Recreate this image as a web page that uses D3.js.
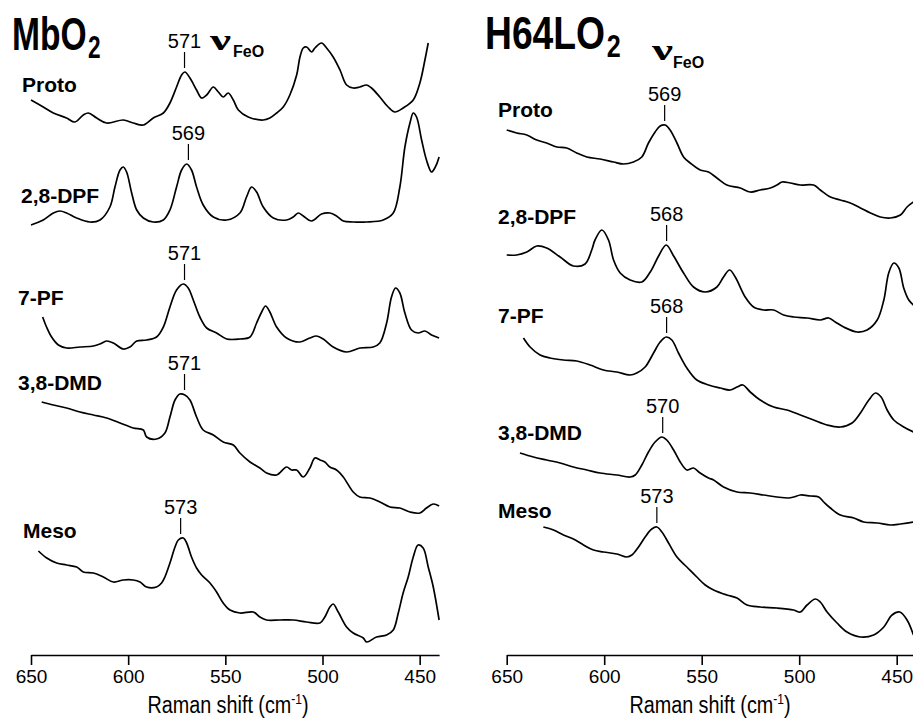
<!DOCTYPE html>
<html>
<head>
<meta charset="utf-8">
<script src="https://cdn.jsdelivr.net/npm/d3@7"></script>
<style>
  body { margin: 0; background: #fff; }
  svg { display: block; font-family: "Liberation Sans", Arial, sans-serif; }
</style>
</head>
<body>
<script>
// sample names, in stacking order (top to bottom)
const sampleNames = ["Proto", "2,8-DPF", "7-PF", "3,8-DMD", "Meso"];
// nu(Fe-O) band positions marked on each trace (cm-1)
const mbPeaks = [571, 569, 571, 571, 573];
const hlPeaks = [569, 568, 568, 570, 573];
const xTicks = [650, 600, 550, 500, 450];

// spectra: [Raman shift cm-1, intensity (arb., stacked)]
const mbProto = [[650,554],[643.7,547],[638.5,541],[631.7,536],[627.4,532],[623.1,539],[620.5,541],[616.2,536],[611.1,531],[602.5,534],[597.4,531],[592.2,529],[587.1,536],[581.9,541],[578.5,551],[575.1,567],[572.5,579],[570.8,582],[568.2,576],[564.8,564],[562.2,556],[559.6,559],[556.2,567],[553.6,562],[551.1,557],[548.5,561],[545.9,554],[543.3,544],[538.2,537],[530.5,534],[527.1,536],[523.6,541],[520.2,547],[516.8,559],[513.3,579],[511.6,597],[509.9,606],[508.2,607],[505.6,602],[503.9,606],[500.5,611],[497.9,606],[494.5,597],[491,584],[487.6,569],[484.2,566],[480.8,567],[477.3,569],[474.8,566],[470.5,557],[466.2,547],[462.8,542],[458.5,546],[453.3,554],[449.9,571],[447.3,594],[445.6,611]];
const mbDPF = [[650,429],[643.7,434],[638.5,441],[635.1,443],[631.7,441],[626.5,436],[619.7,432],[614.5,434],[609.4,447],[606.8,467],[604.2,484],[602.5,487],[600.8,482],[598.2,461],[595.6,444],[592.2,436],[587.1,432],[581.9,434],[578.5,444],[575.1,467],[572.5,484],[569.9,490],[567.4,484],[564.8,467],[561.4,449],[556.2,437],[549.3,434],[542.5,441],[539.1,457],[536.5,467],[533.9,462],[530.5,447],[525.3,436],[518.5,434],[515.1,437],[512.5,441],[509.9,438],[505.6,433],[500.5,440],[496.2,441],[492.8,438],[489.3,433],[484.2,432],[477.3,432],[468.8,434],[463.6,441],[460.2,467],[457.6,507],[455,531],[453.3,541],[451.6,537],[449,514],[446.5,494],[443.9,482],[442.2,486],[440,497]];
const mbPF = [[644,337],[642,327],[639.4,317],[635.9,309],[631.7,306],[624.8,307],[617.9,308],[614.5,310],[611.1,313],[607.6,311],[602.5,305],[599.1,307],[595.6,313],[590.5,314],[585.4,317],[581.9,327],[578.5,347],[575.1,364],[571.6,370],[569.1,366],[566.5,354],[563.1,337],[559.6,326],[554.5,321],[549.3,315],[542.5,315],[537.3,317],[533.9,331],[531.3,342],[529.3,348],[527.1,342],[523.6,327],[518.5,316],[511.6,312],[506.5,316],[503.1,318],[499.6,315],[494.5,307],[487.6,302],[480.8,306],[473.9,307],[470.5,311],[467,331],[464.5,357],[462.4,366],[460.2,361],[457.6,341],[454.2,324],[450.8,321],[447.3,323],[443.9,319],[440,316]];
const mbDMD = [[644.5,252],[638.5,249],[631.7,246],[624.8,242],[617.9,239],[611.1,236],[604.2,231],[597.4,226],[592.2,224],[590.5,217],[585.4,215],[581.1,221],[578.5,237],[575.9,254],[573.4,260],[570.8,259],[568.2,254],[564.8,237],[561.4,224],[556.2,219],[551.1,212],[545.9,209],[542.5,201],[537.3,192],[532.2,186],[528.8,181],[523.6,179],[518.5,187],[515.9,184],[513.3,184],[509.9,177],[506.5,186],[503.9,196],[501.3,194],[498.8,192],[496.2,187],[492.8,184],[489.3,177],[484.2,162],[480.8,157],[475.6,156],[470.5,152],[465.3,147],[460.2,146],[455,142],[449.9,141],[446.5,146],[443,150],[440,148]];
const mbMeso = [[646.2,103],[641.9,96],[636.8,91],[631.7,89],[626.5,87],[623.1,82],[617.9,81],[612.8,77],[607.6,72],[602.5,74],[597.4,74],[593.9,72],[590.5,67],[585.4,67],[582.8,71],[581.1,77],[578.5,91],[575.9,107],[574.2,114],[571.6,116],[569.9,111],[567.4,97],[564.8,86],[562.2,79],[557.9,71],[554.5,62],[551.1,51],[547.6,44],[542.5,41],[535.6,42],[532.2,37],[528.8,34],[521.9,34],[515.1,34],[508.2,32],[501.3,31],[498.8,37],[496.2,47],[494.5,50],[491.9,42],[487.6,27],[484.2,21],[479,16],[477.3,12],[472.2,17],[467,19],[463.6,24],[461,41],[458.5,61],[455.9,77],[453.3,97],[450.8,109],[448.2,106],[445.6,87],[443,67],[440,34]];

const hlProto = [[650,524],[644.9,521],[639.7,519],[634.6,514],[629.5,511],[624.3,507],[619.2,506],[614.1,501],[608.9,497],[602.1,495],[595.2,492],[590.1,490],[585,492],[580.7,497],[577.3,511],[573.9,522],[571.3,528],[568.7,529],[566.2,524],[562.7,511],[559.3,497],[555.9,491],[550.8,484],[546.5,482],[542.2,476],[537.1,469],[530.2,466],[525.1,462],[520,464],[514.8,466],[511.4,469],[508.8,472],[504.6,471],[499.4,469],[492.6,469],[489.2,464],[484,457],[478.9,454],[473.8,451],[468.6,446],[463.5,441],[458.4,437],[453.2,436],[448.1,439],[444.7,447],[441.4,452]];
const hlDPF = [[650,399],[644.9,399],[639.7,402],[634.6,408],[629.5,406],[622.6,397],[615.8,388],[609.8,390],[606.4,404],[604.7,414],[601.2,424],[597.8,414],[595.2,394],[591.8,381],[586.7,374],[580.7,372],[576.4,382],[572.1,398],[568.2,409],[564.4,398],[559.3,381],[554.2,367],[548.2,362],[542.2,367],[538.8,377],[535.7,384],[532.8,377],[527.7,357],[523.4,347],[518.2,344],[513.1,344],[508,339],[502.8,337],[496,336],[489.2,334],[484.9,336],[481.5,332],[477.2,327],[470.3,322],[465.2,324],[460,334],[456.6,354],[454.1,381],[451.5,391],[448.9,386],[446.4,366],[443.8,354],[441.4,349]];
const hlPF = [[641.4,316],[638,307],[632.9,299],[627.8,296],[620.9,294],[614.1,293],[607.2,289],[600.4,284],[593.5,282],[586.7,279],[583.3,281],[579,287],[574.7,301],[571.3,312],[568.2,317],[565.3,314],[561.9,301],[557.6,286],[552.5,274],[546.5,269],[540.5,266],[535.4,264],[531.9,267],[528.9,269],[525.1,262],[520,254],[513.1,247],[506.3,244],[499.4,239],[492.6,234],[485.7,229],[478.9,227],[472.9,231],[468.6,241],[464.3,254],[460.9,261],[458,257],[454.9,244],[451.5,234],[446.4,227],[441.4,222]];
const hlDMD = [[643.2,201],[636.3,197],[629.5,194],[622.6,191],[615.8,187],[608.9,184],[602.1,181],[593.5,179],[586.7,177],[584.1,179],[580.7,189],[577.3,202],[573.9,212],[570.4,217],[567.9,214],[564.4,204],[561,192],[557.6,184],[554.2,186],[550.8,181],[546.5,176],[543.9,174],[538.8,167],[531.9,162],[525.1,161],[518.2,159],[511.4,157],[505.4,156],[502.8,157],[499.4,159],[494.3,158],[490,157],[487.4,152],[484,146],[478.9,139],[472,136],[466.9,132],[460,131],[453.2,129],[448.1,130],[441.4,132]];
const hlMeso = [[631.2,127],[626,124],[620.9,119],[615.8,115],[610.6,109],[605.5,104],[600.4,102],[593.5,100],[588.4,97],[585.8,99],[582.4,107],[579,117],[575.6,125],[573,127],[570.4,122],[567,111],[562.7,97],[557.6,87],[552.5,77],[548.2,69],[543.9,64],[537.1,59],[531.9,56],[526.8,49],[520,47],[511.4,46],[502.8,44],[499.4,42],[496,49],[491.7,55],[489.2,52],[485.7,42],[480.6,31],[475.5,22],[468.6,17],[461.8,19],[456.6,27],[452.4,39],[448.4,42],[444.7,34],[441.4,19]];

const width = 913, height = 719;
const axisY = 655;

// layout of the two panels (pixels)
const panels = [
  { title: "MbO", titleX: 12, titleY: 50, titleScale: 0.73,
    nuX: 210, nuY: 50, feoX: 233, feoY: 57,
    x0: 31, x1: 439.1, xLabelX: 228,
    labelPos: [[22, 92], [21, 203], [18, 305], [18, 390], [23, 538]],
    spectra: [mbProto, mbDPF, mbPF, mbDMD, mbMeso], peaks: mbPeaks },
  { title: "H64LO", titleX: 485, titleY: 49, titleScale: 0.81,
    nuX: 652, nuY: 60, feoX: 673, feoY: 68,
    x0: 506.7, x1: 916.2, xLabelX: 710,
    labelPos: [[498, 117], [498, 224], [498, 323], [498, 440], [498, 518]],
    spectra: [hlProto, hlDPF, hlPF, hlDMD, hlMeso], peaks: hlPeaks }
];

const svg = d3.select("body").append("svg")
  .attr("width", width)
  .attr("height", height);

// arbitrary intensity, traces already offset
const yScale = d3.scaleLinear().domain([0, 654]).range([654, 0]);

panels.forEach(function(p) {
  const xScale = d3.scaleLinear().domain([650, 440]).range([p.x0, p.x1]);

  const line = d3.line()
    .x(function(d) { return xScale(d[0]); })
    .y(function(d) { return yScale(d[1]); })
    .curve(d3.curveCatmullRom.alpha(0.5));

  const g = svg.append("g");

  g.selectAll("path.spec").data(p.spectra).enter().append("path")
    .attr("class", "spec")
    .attr("d", line)
    .attr("fill", "none")
    .attr("stroke", "#000")
    .attr("stroke-width", 1.7)
    .attr("stroke-linejoin", "round");

  // x axis, ticks pointing down
  const xAxis = d3.axisBottom(xScale)
    .tickValues(xTicks)
    .tickSize(10)
    .tickSizeOuter(0)
    .tickPadding(5);

  const ax = g.append("g")
    .attr("transform", "translate(0," + axisY + ")")
    .call(xAxis)
    .attr("font-family", null)
    .attr("font-size", null);
  ax.select(".domain").attr("stroke-width", 1.6);
  ax.selectAll(".tick line").attr("stroke-width", 1.6);
  ax.selectAll(".tick text")
    .attr("font-size", 19)
    .attr("fill", "#000");

  // axis title, narrow face
  const xl = g.append("text")
    .attr("transform", "translate(" + p.xLabelX + ",713) scale(0.86,1)")
    .attr("text-anchor", "middle")
    .attr("font-size", 23);
  xl.append("tspan").text("Raman shift (cm");
  xl.append("tspan").attr("dy", -9).attr("font-size", 14).text("-1");
  xl.append("tspan").attr("dy", 9).text(")");

  // panel title with subscript 2, condensed bold
  const tt = g.append("text")
    .attr("transform", "translate(" + p.titleX + "," + p.titleY + ") scale(" + p.titleScale + ",1)")
    .attr("font-size", 46)
    .attr("font-weight", "bold");
  tt.append("tspan").text(p.title);
  tt.append("tspan").attr("dx", 2).attr("dy", 8).attr("font-size", 31).text("2");

  // nu FeO
  g.append("text")
    .attr("x", p.nuX).attr("y", p.nuY)
    .attr("font-size", 30).attr("font-weight", "bold")
    .attr("font-family", "'Liberation Serif', 'DejaVu Serif', serif")
    .attr("textLength", 21)
    .attr("lengthAdjust", "spacingAndGlyphs")
    .text("\u03bd");
  g.append("text")
    .attr("x", p.feoX).attr("y", p.feoY)
    .attr("font-size", 16).attr("font-weight", "bold")
    .text("FeO");

  // sample names
  g.selectAll("text.name").data(sampleNames).enter().append("text")
    .attr("class", "name")
    .attr("x", function(d, i) { return p.labelPos[i][0]; })
    .attr("y", function(d, i) { return p.labelPos[i][1]; })
    .attr("font-size", 21)
    .attr("font-weight", "bold")
    .text(function(d) { return d; });

  // peak markers sit just above the band maximum
  p.peaks.forEach(function(pk, i) {
    const near = p.spectra[i].filter(function(d) { return Math.abs(d[0] - pk) <= 4; });
    const top = yScale(d3.max(near, function(d) { return d[1]; }));
    const px = xScale(pk);
    g.append("line")
      .attr("x1", px).attr("x2", px)
      .attr("y1", top - 4).attr("y2", top - 20)
      .attr("stroke", "#000")
      .attr("stroke-width", 1.2);
    g.append("text")
      .attr("x", px).attr("y", top - 24)
      .attr("text-anchor", "middle")
      .attr("font-size", 20)
      .text(pk);
  });
});
</script>
</body>
</html>
